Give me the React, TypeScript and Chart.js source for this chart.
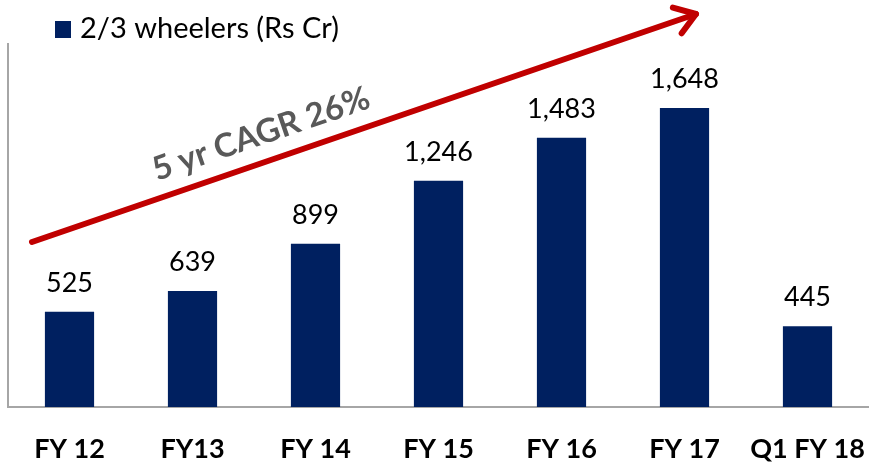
import React, { useEffect, useRef } from "react";
import { Chart, registerables } from "chart.js";

Chart.register(...registerables);

const categories = ["FY 12", "FY13", "FY 14", "FY 15", "FY 16", "FY 17", "Q1 FY 18"];
const values = [525, 639, 899, 1246, 1483, 1648, 445];
const seriesName = "2/3 wheelers (Rs Cr)";
const cagrText = "5 yr CAGR 26%";

const NAVY = "#002060";
const RED = "#c00000";
const FONT = "Lato, 'Open Sans', sans-serif";

const overlayPlugin = {
  id: "overlay",
  afterDatasetsDraw(chart: any) {
    const ctx = chart.ctx;
    const meta = chart.getDatasetMeta(0);
    ctx.save();
    ctx.font = `27px ${FONT}`;
    ctx.fillStyle = "#000";
    ctx.textAlign = "center";
    ctx.textBaseline = "alphabetic";
    meta.data.forEach((bar: any, i: number) => {
      ctx.fillText(values[i].toLocaleString("en-US"), bar.x, bar.y - 20);
    });
    ctx.restore();
  },
  afterDraw(chart: any) {
    const ctx = chart.ctx;
    const w = chart.width;
    const h = chart.height;
    ctx.save();
    // legend
    ctx.fillStyle = NAVY;
    ctx.fillRect(55, 21, 16, 17);
    ctx.fillStyle = "#000";
    ctx.font = `29px ${FONT}`;
    ctx.textAlign = "left";
    ctx.textBaseline = "alphabetic";
    ctx.fillText(seriesName, 80, 38);

    // trend arrow
    const x0 = w * (32 / 869), y0 = h * (242 / 463);
    const x1 = w * (696 / 869), y1 = h * (14 / 463);
    ctx.strokeStyle = RED;
    ctx.lineWidth = 6;
    ctx.lineCap = "round";
    ctx.lineJoin = "round";
    ctx.beginPath();
    ctx.moveTo(x0, y0);
    ctx.lineTo(x1, y1);
    ctx.stroke();
    const ang = Math.atan2(y1 - y0, x1 - x0);
    const hl = 24;
    ctx.beginPath();
    ctx.moveTo(x1 - hl * Math.cos(ang - 0.6), y1 - hl * Math.sin(ang - 0.6));
    ctx.lineTo(x1, y1);
    ctx.lineTo(x1 - hl * Math.cos(ang + 0.6), y1 - hl * Math.sin(ang + 0.6));
    ctx.stroke();

    // CAGR text
    ctx.translate(w * (261 / 869), h * (134 / 463));
    ctx.rotate(ang);
    ctx.fillStyle = "#595959";
    ctx.font = `bold 33px ${FONT}`;
    ctx.textAlign = "center";
    ctx.textBaseline = "middle";
    ctx.fillText(cagrText, 0, 0);
    ctx.restore();
  },
};

export default function App() {
  const ref = useRef<HTMLCanvasElement | null>(null);
  useEffect(() => {
    document.body.style.margin = "0";
    const chart = new Chart(ref.current as HTMLCanvasElement, {
      type: "bar",
      data: {
        labels: categories,
        datasets: [
          {
            label: seriesName,
            data: values,
            backgroundColor: NAVY,
            barPercentage: 0.4,
            categoryPercentage: 1,
          },
        ],
      },
      options: {
        responsive: false,
        animation: false,
        layout: { padding: { left: 8, right: 0, top: 44, bottom: 0 } },
        plugins: { legend: { display: false }, tooltip: { enabled: false } },
        scales: {
          x: {
            grid: { display: false, drawTicks: false },
            border: { display: true, color: "#a6a6a6", width: 2 },
            ticks: {
              color: "#000",
              font: { family: FONT, size: 27, weight: "bold" },
              padding: 26,
              maxRotation: 0,
              autoSkip: false,
            },
            afterFit(scale: any) {
              scale.height = 56;
              scale.paddingLeft = 0;
              scale.paddingRight = 0;
            },
          },
          y: {
            min: 0,
            max: 2000,
            grid: { display: false, drawTicks: false },
            border: { display: true, color: "#a6a6a6", width: 2 },
            ticks: { display: false },
          },
        },
      },
      plugins: [overlayPlugin],
    });
    return () => chart.destroy();
  }, []);
  return (
    <div style={{ width: 869, height: 463 }}>
      <canvas ref={ref} width={869} height={463} style={{ display: "block" }} />
    </div>
  );
}
